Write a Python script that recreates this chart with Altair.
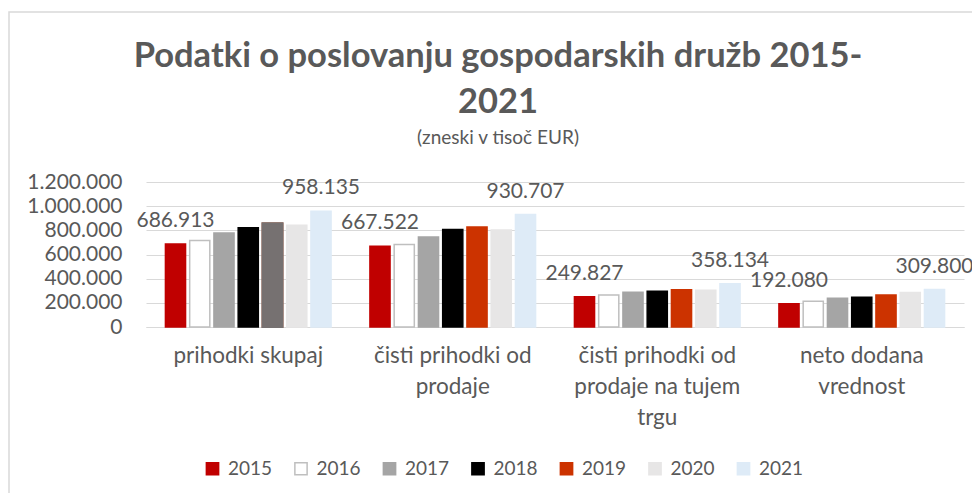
import json
import altair as alt
import pandas as pd

# ---------------- data ----------------
categories = [
    "prihodki skupaj",
    "čisti prihodki od prodaje",
    "čisti prihodki od prodaje na tujem trgu",
    "neto dodana vrednost",
]
category_lines = [
    ["prihodki skupaj"],
    ["čisti prihodki od", "prodaje"],
    ["čisti prihodki od", "prodaje na tujem", "trgu"],
    ["neto dodana", "vrednost"],
]
years = ["2015", "2016", "2017", "2018", "2019", "2020", "2021"]

v2015 = [686913, 667522, 249827, 192080]
v2016 = [715000, 682000, 265000, 213000]
v2017 = [778000, 745000, 287000, 238000]
v2018 = [822000, 806000, 295000, 246000]
v2019 = [858000, 828000, 309000, 265000]
v2020 = [842000, 803000, 304000, 285000]
v2021 = [958135, 930707, 358134, 309800]
series = [v2015, v2016, v2017, v2018, v2019, v2020, v2021]

fill_colors = ["#C00000", "#FFFFFF", "#A5A5A5", "#000000", "#CC3300", "#E7E6E6", "#DEEBF7"]
stroke_colors = ["#C00000", "#BFBFBF", "#A5A5A5", "#000000", "#CC3300", "#E7E6E6", "#DEEBF7"]

override_category = "prihodki skupaj"
override_year = "2019"
override_color = "#767171"

labelled_years = ["2015", "2021"]

y_ticks = [0, 200000, 400000, 600000, 800000, 1000000, 1200000]

title_lines = ["Podatki o poslovanju gospodarskih družb 2015-", "2021"]
subtitle = "(zneski v tisoč EUR)"

# ---------------- table ----------------
rows = []
for y, vals in zip(years, series):
    for c, v in zip(categories, vals):
        rows.append({
            "kategorija": c,
            "leto": y,
            "vrednost": v,
            "override": (c == override_category and y == override_year),
        })
df = pd.DataFrame(rows)

TEXT = "#595959"
FONT = "Lato"
W, H = 818, 145

label_map = json.dumps(dict(zip(categories, category_lines)), ensure_ascii=False)

x_enc = alt.X(
    "kategorija:N",
    sort=categories,
    scale=alt.Scale(paddingInner=0.19, paddingOuter=0.095),
    axis=alt.Axis(
        title=None, labelAngle=0, ticks=False, domain=True, domainColor="#D9D9D9",
        labelExpr=label_map + "[datum.label]", labelFontSize=22.5, labelColor=TEXT,
        labelFont=FONT, labelPadding=17, labelLineHeight=31, labelBaseline="top",
    ),
)
xoff_enc = alt.XOffset("leto:N", sort=years, scale=alt.Scale(paddingInner=0.17, paddingOuter=0))
y_enc = alt.Y(
    "vrednost:Q",
    scale=alt.Scale(domain=[0, 1200000], nice=False),
    axis=alt.Axis(
        title=None, values=y_ticks, format=",d", ticks=False, domain=False,
        gridColor="#D9D9D9", gridWidth=1, labelFontSize=21, labelColor=TEXT,
        labelFont=FONT, labelPadding=24,
    ),
)

base = alt.Chart(df)

bars = base.mark_bar(strokeWidth=1.5).encode(
    x=x_enc,
    xOffset=xoff_enc,
    y=y_enc,
    fill=alt.Fill("leto:N", sort=years, scale=alt.Scale(domain=years, range=fill_colors),
                  legend=alt.Legend(title=None)),
    stroke=alt.Stroke("leto:N", sort=years, scale=alt.Scale(domain=years, range=stroke_colors),
                      legend=alt.Legend(title=None)),
)

override = base.transform_filter(alt.datum.override == True).mark_bar(
    fill=override_color, stroke=override_color, strokeWidth=2
).encode(x=x_enc, xOffset=xoff_enc, y=y_enc)

labels = base.transform_filter(
    alt.FieldOneOfPredicate(field="leto", oneOf=labelled_years)
).mark_text(dy=-17, baseline="alphabetic", fontSize=21, font=FONT, color=TEXT).encode(
    x=x_enc, xOffset=xoff_enc, y=y_enc, text=alt.Text("vrednost:Q", format=",d")
)

frame = alt.Chart(pd.DataFrame({"f": [0]})).mark_rect(
    filled=False, stroke="#D9D9D9", strokeWidth=1.5
).encode(
    x=alt.value(-137), x2=alt.value(W + 40), y=alt.value(-170), y2=alt.value(H + 200)
)

chart = alt.layer(frame, bars, override, labels).properties(
    width=W,
    height=H,
    autosize=alt.AutoSizeParams(type="none"),
    padding={"left": 138, "top": 174, "right": 8, "bottom": 166},
    title=alt.TitleParams(
        text=title_lines,
        subtitle=subtitle,
        anchor="middle",
        dx=-57,
        dy=138,
        font=FONT,
        fontSize=34.5,
        fontWeight="bold",
        color=TEXT,
        lineHeight=46,
        subtitleFont=FONT,
        subtitleFontSize=19,
        subtitleColor=TEXT,
        subtitlePadding=9,
        offset=0,
    ),
).configure(
    locale=alt.Locale(number=alt.NumberLocale(
        decimal=",", thousands=".", grouping=[3], currency=["", " €"]
    ))
).configure_view(stroke=None).configure_legend(
    orient="none",
    legendX=57,
    legendY=277,
    direction="horizontal",
    symbolType="square",
    symbolSize=150,
    symbolStrokeWidth=1.5,
    labelFontSize=19,
    labelFont=FONT,
    labelColor=TEXT,
    labelOffset=6,
    columnPadding=18.5,
)

chart.save("out.html", embed_options={"renderer": "svg", "actions": False})
